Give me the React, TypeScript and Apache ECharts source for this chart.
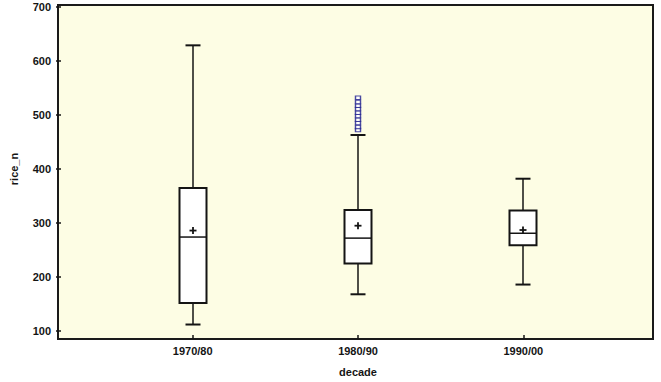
import React, { useEffect, useRef } from "react";
import * as echarts from "echarts";

const categories = ["1970/80", "1980/90", "1990/00"];
const lowWhisker = [112, 168, 186];
const q1 = [152, 225, 259];
const median = [274, 272, 281];
const q3 = [365, 324, 323];
const highWhisker = [629, 463, 382];
const means = [286, 295, 287];
const outliers1980 = [472, 478, 485, 491, 498, 504, 511, 517, 524, 532];
const yTicks = { min: 100, max: 700, interval: 100 };

export default function App() {
  const ref = useRef<HTMLDivElement>(null);
  useEffect(() => {
    if (!ref.current) return;
    const chart = echarts.init(ref.current, undefined, { renderer: "svg" });
    const boxData = categories.map((_, i) => [
      i,
      lowWhisker[i],
      q1[i],
      median[i],
      q3[i],
      highWhisker[i],
      means[i],
    ]);
    const ink = "#141414";
    const font = "'Liberation Sans', Arial, sans-serif";
    chart.setOption({
      animation: false,
      backgroundColor: "#ffffff",
      grid: { left: 107, right: 55, top: 7, bottom: 47, containLabel: false },
      graphic: [
        {
          type: "rect",
          z: -10,
          shape: { x: 58, y: 5, width: 595, height: 334 },
          style: { fill: "#fdfde4", stroke: "#1a1a1a", lineWidth: 2 },
          silent: true,
        },
      ],
      xAxis: {
        type: "category",
        data: categories,
        offset: 4,
        axisLine: { show: false },
        axisTick: {
          show: true,
          alignWithLabel: true,
          length: 4,
          lineStyle: { color: ink, width: 1.5 },
        },
        axisLabel: {
          color: ink,
          fontWeight: "bold",
          fontSize: 11,
          fontFamily: font,
          margin: 10,
        },
        splitLine: { show: false },
        name: "decade",
        nameLocation: "middle",
        nameGap: 31,
        nameTextStyle: {
          color: ink,
          fontWeight: "bold",
          fontSize: 11,
          fontFamily: font,
        },
      },
      yAxis: {
        type: "value",
        min: yTicks.min,
        max: yTicks.max,
        interval: yTicks.interval,
        offset: 49,
        axisLine: { show: false },
        axisTick: { show: true, length: 5, lineStyle: { color: ink, width: 1.5 } },
        axisLabel: {
          color: ink,
          fontWeight: "bold",
          fontSize: 11,
          fontFamily: font,
          margin: 10,
        },
        splitLine: { show: false },
        name: "rice_n",
        nameLocation: "middle",
        nameGap: 42,
        nameTextStyle: {
          color: ink,
          fontWeight: "bold",
          fontSize: 11,
          fontFamily: font,
        },
      },
      series: [
        {
          type: "custom",
          data: boxData,
          encode: { x: 0, y: [1, 2, 3, 4, 5, 6] },
          renderItem: (params: any, api: any) => {
            const idx = api.value(0);
            const pLow = api.coord([idx, api.value(1)]);
            const pQ1 = api.coord([idx, api.value(2)]);
            const pMed = api.coord([idx, api.value(3)]);
            const pQ3 = api.coord([idx, api.value(4)]);
            const pHigh = api.coord([idx, api.value(5)]);
            const pMean = api.coord([idx, api.value(6)]);
            const cx = Math.round(pLow[0]);
            const bw = 27;
            const cw = 15;
            const ls = { stroke: ink, lineWidth: 1.5, fill: "none" };
            return {
              type: "group",
              children: [
                {
                  type: "line",
                  shape: { x1: cx, y1: pLow[1], x2: cx, y2: pHigh[1] },
                  style: ls,
                },
                {
                  type: "line",
                  shape: { x1: cx - cw / 2, y1: pLow[1], x2: cx + cw / 2, y2: pLow[1] },
                  style: { ...ls, lineWidth: 2 },
                },
                {
                  type: "line",
                  shape: { x1: cx - cw / 2, y1: pHigh[1], x2: cx + cw / 2, y2: pHigh[1] },
                  style: { ...ls, lineWidth: 2 },
                },
                {
                  type: "rect",
                  shape: { x: cx - bw / 2, y: pQ3[1], width: bw, height: pQ1[1] - pQ3[1] },
                  style: { fill: "#ffffff", stroke: ink, lineWidth: 2 },
                },
                {
                  type: "line",
                  shape: { x1: cx - bw / 2, y1: pMed[1], x2: cx + bw / 2, y2: pMed[1] },
                  style: ls,
                },
                {
                  type: "line",
                  shape: { x1: cx - 3.5, y1: pMean[1], x2: cx + 3.5, y2: pMean[1] },
                  style: { ...ls, lineWidth: 1.8 },
                },
                {
                  type: "line",
                  shape: { x1: cx, y1: pMean[1] - 3.5, x2: cx, y2: pMean[1] + 3.5 },
                  style: { ...ls, lineWidth: 1.8 },
                },
              ],
            };
          },
        },
        {
          type: "scatter",
          data: outliers1980.map((v) => [1, v]),
          symbol: "rect",
          symbolSize: [5, 3.5],
          itemStyle: { color: "#ffffff", borderColor: "#1c1c8c", borderWidth: 1.2 },
          z: 3,
        },
      ],
    });
    return () => chart.dispose();
  }, []);
  return (
    <div
      ref={ref}
      style={{ position: "absolute", left: 0, top: 0, width: 661, height: 382 }}
    />
  );
}
